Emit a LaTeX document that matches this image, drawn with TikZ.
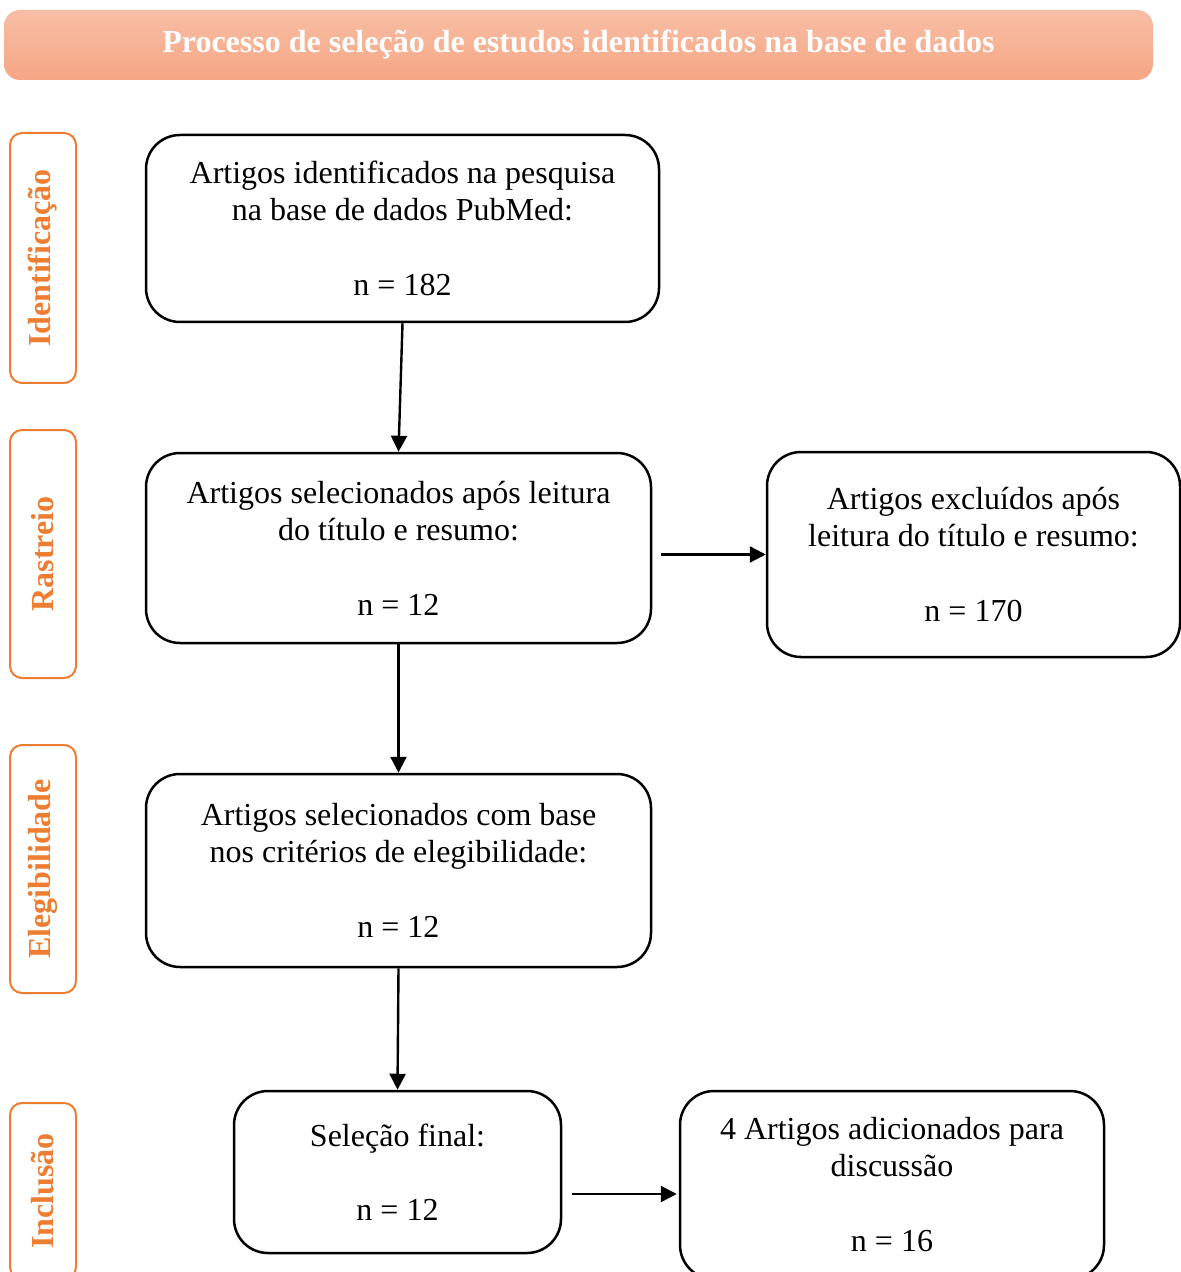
\documentclass[tikz,border=0pt]{standalone}
\usepackage{fontspec}
\setmainfont{Liberation Serif}
\usetikzlibrary{positioning, arrows.meta, calc}
\definecolor{stagecol}{RGB}{237,125,49}
\definecolor{headtop}{RGB}{247,190,165}
\definecolor{headbot}{RGB}{246,166,132}

\tikzset{
  box/.style={draw, line width=1.25pt, rounded corners=17pt, align=center, inner sep=0pt, font=\fontsize{16}{18.5}\selectfont},
  stage/.style={draw=stagecol, text=stagecol, line width=1pt, rounded corners=6pt, rotate=90, minimum height=33pt, font=\bfseries\fontsize{16}{18}\selectfont},
  header/.style={rounded corners=8pt, top color=headtop, bottom color=headbot, text=white, minimum width=574.5pt, minimum height=35pt, font=\bfseries\fontsize{16}{18}\selectfont},
  arr/.style={-{Triangle[length=8pt,width=8pt]}, line width=1.2pt}
}

\begin{document}
\begin{tikzpicture}[x=0.5pt, y=-0.5pt]
    \useasboundingbox (0,0) rectangle (1181,1272);

      \node[header] (title) at (578.5,45) {Processo de seleção de estudos identificados na base de dados};

      \node[stage, minimum width=125pt] (s_ident) at (43,258)  {Identificação};
      \node[stage, minimum width=124pt] (s_rast)  at (43,554)  {Rastreio};
      \node[stage, minimum width=124pt] (s_eleg)  at (43,869)  {Elegibilidade};
      \node[stage, minimum width=88pt]  (s_incl)  at (43,1191) {Inclusão};

      \node[box, minimum width=256.5pt, minimum height=93.5pt] (b_ident) at (402.5,228.5)
          {Artigos identificados na pesquisa\\na base de dados PubMed:\\[19pt]n = 182};
      \node[box, minimum width=252.5pt, minimum height=95pt] (b_rast) at (398.5,548)
          {Artigos selecionados após leitura\\do título e resumo:\\[19pt]n = 12};
      \node[box, minimum width=206.5pt, minimum height=102.5pt] (b_excl) at (973.5,554.5)
          {Artigos excluídos após\\leitura do título e resumo:\\[19pt]n = 170};
      \node[box, minimum width=252.5pt, minimum height=96.5pt] (b_eleg) at (398.5,870.5)
          {Artigos selecionados com base\\nos critérios de elegibilidade:\\[19pt]n = 12};
      \node[box, minimum width=163.5pt, minimum height=81pt] (b_final) at (397.5,1172)
          {Seleção final:\\[18.5pt]n = 12};
      \node[box, minimum width=212pt, minimum height=94pt] (b_add) at (892,1185)
          {4 Artigos adicionados para\\discussão\\[19pt]n = 16};

      \path[arr] (b_ident.south) edge (b_rast.north)
                 (b_rast.south)  edge (b_eleg.north)
                 (b_eleg.south)  edge (b_final.north);
      \draw[arr, shorten <=4.5pt] (b_rast.east |- b_excl.west) -- (b_excl.west);
      \draw[arr, shorten <=5pt, shorten >=1pt] ([yshift=-11pt]b_final.east) -- ([yshift=-11pt]b_final.east -| b_add.west);
\end{tikzpicture}
\end{document}
